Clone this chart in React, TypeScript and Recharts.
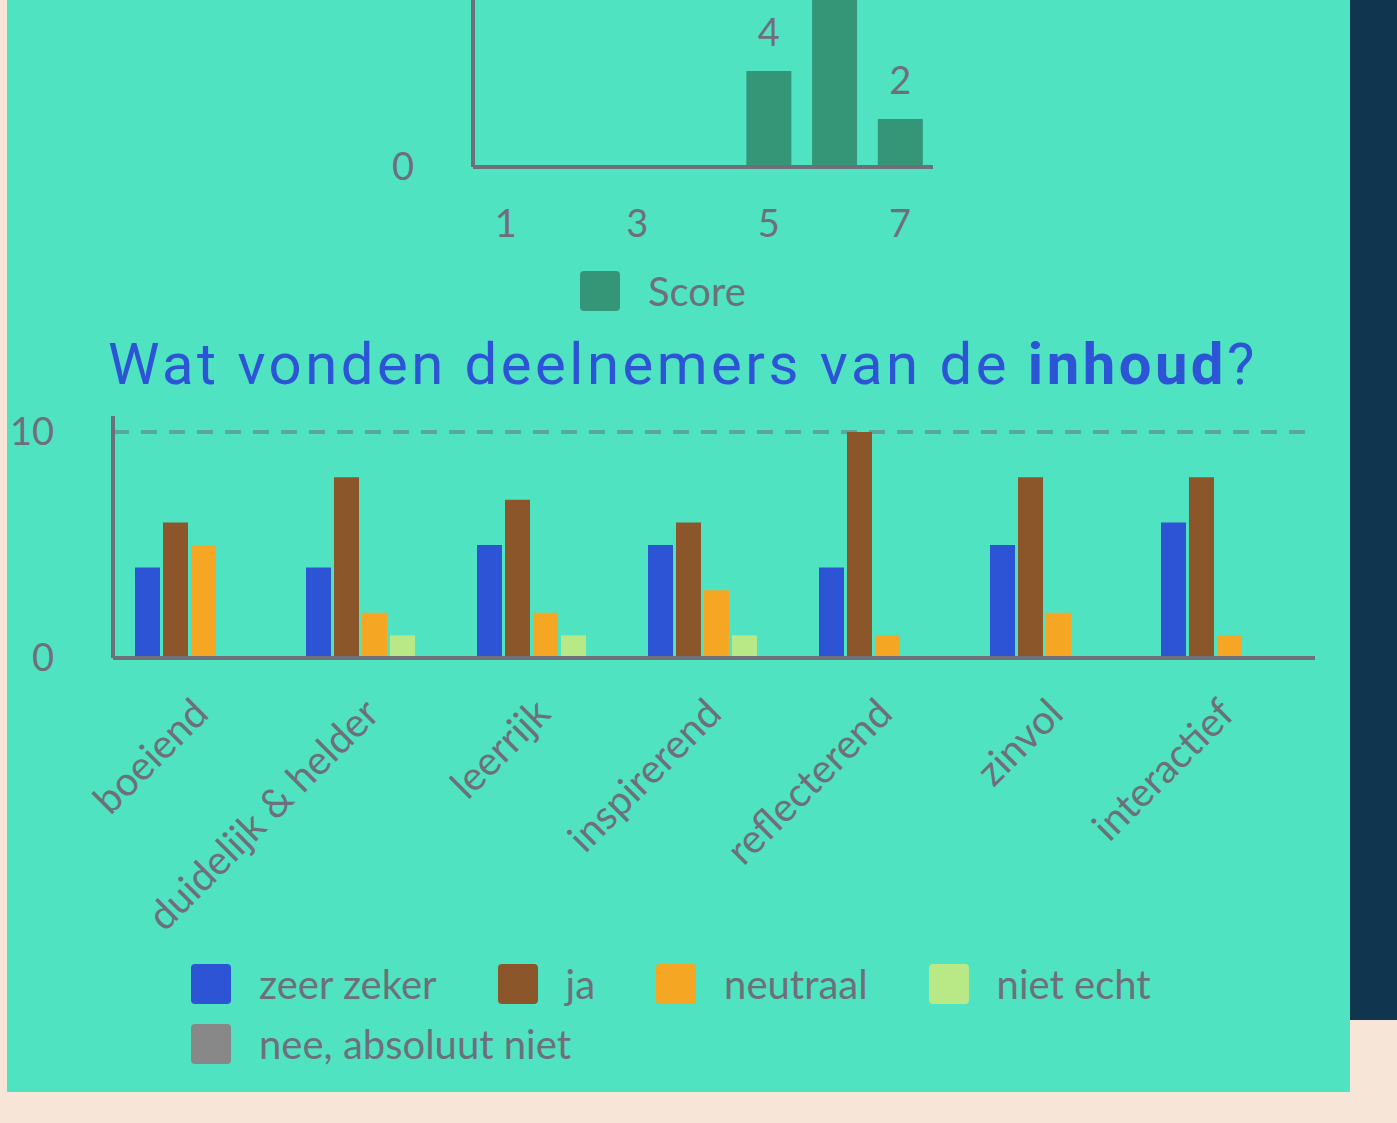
import { BarChart, Bar, XAxis, YAxis, CartesianGrid, Legend, LabelList } from 'recharts';

// score chart (upper, scrolled partly out of view)
const scoreCategories = ['1', '2', '3', '4', '5', '6', '7'];
const scoreValues = [0, 0, 0, 0, 4, 9, 2];
const scoreTicks = [0];

// inhoud chart
const aspects = ['boeiend', 'duidelijk & helder', 'leerrijk', 'inspirerend', 'reflecterend', 'zinvol', 'interactief'];
const zeerZeker = [4, 4, 5, 5, 4, 5, 6];
const ja = [6, 8, 7, 6, 10, 8, 8];
const neutraal = [5, 2, 2, 3, 1, 2, 1];
const nietEcht = [0, 1, 1, 1, 0, 0, 0];
const neeAbsoluutNiet = [0, 0, 0, 0, 0, 0, 0];
const answerNames = ['zeer zeker', 'ja', 'neutraal', 'niet echt', 'nee, absoluut niet'];
const answerColors = ['#2c54d4', '#8b572a', '#f5a623', '#b8e986', '#888888'];
const inhoudTicks = [0, 10];

const TEXT = '#6e7079';
const AXIS = '#6e7079';
const FONT = 'Lato, "Open Sans", sans-serif';

const scoreData = scoreCategories.map((c, i) => ({ name: c, Score: scoreValues[i] }));
const answerSeries = [zeerZeker, ja, neutraal, nietEcht, neeAbsoluutNiet];
const inhoudData = aspects.map((a, i) => {
  const row: Record<string, string | number> = { name: a };
  answerNames.forEach((n, k) => {
    row[n] = answerSeries[k][i];
  });
  return row;
});

function LegendBoxes(props: any) {
  const payload = [...(props.payload || [])].sort(
    (a: any, b: any) => answerNames.indexOf(a.value) - answerNames.indexOf(b.value),
  );
  return (
    <div style={{ display: 'flex', flexWrap: 'wrap', rowGap: 20, fontFamily: FONT }}>
      {payload.map((entry: any) => (
        <div key={entry.value} style={{ display: 'flex', alignItems: 'center', marginRight: 61 }}>
          <span
            style={{ display: 'inline-block', width: 40, height: 40, borderRadius: 4, background: entry.color }}
          />
          <span style={{ marginLeft: 28, fontSize: 40, lineHeight: '40px', color: TEXT }}>{entry.value}</span>
        </div>
      ))}
    </div>
  );
}

function SlantTick(props: any) {
  const { x, y, payload } = props;
  const ax = x + 7;
  const ay = y + 50;
  return (
    <text
      x={ax}
      y={ay}
      textAnchor="end"
      fill={TEXT}
      fontSize={40}
      fontFamily={FONT}
      transform={`rotate(-45 ${ax} ${ay})`}
    >
      {payload.value}
    </text>
  );
}

function ScoreChart() {
  return (
    <BarChart
      width={1397}
      height={460}
      data={scoreData}
      margin={{ top: 57, right: 464, bottom: 103, left: 413 }}
      barCategoryGap={10.5}
      style={{ fontFamily: FONT }}
    >
      <XAxis
        dataKey="name"
        interval={1}
        height={60}
        tickLine={false}
        tickMargin={37}
        axisLine={{ stroke: AXIS, strokeWidth: 4 }}
        tick={{ fill: TEXT, fontSize: 38 }}
      />
      <YAxis
        width={60}
        domain={[0, 10]}
        ticks={scoreTicks}
        tickLine={false}
        tickMargin={53}
        axisLine={{ stroke: AXIS, strokeWidth: 4 }}
        tick={{ fill: TEXT, fontSize: 38 }}
      />
      <Legend
        layout="horizontal"
        verticalAlign="middle"
        align="center"
        wrapperStyle={{ left: 580, top: 401, width: 400 }}
        content={LegendBoxes}
      />
      <Bar dataKey="Score" fill="#359677" isAnimationActive={false}>
        <LabelList
          dataKey="Score"
          position="top"
          offset={25}
          fill={TEXT}
          fontSize={38}
          formatter={(v: any) => (v > 0 ? v : '')}
        />
      </Bar>
    </BarChart>
  );
}

function InhoudChart() {
  return (
    <BarChart
      width={1397}
      height={700}
      data={inhoudData}
      margin={{ top: 16, right: 82, bottom: 342, left: 53 }}
      barCategoryGap={17}
      barGap={3}
      style={{ fontFamily: FONT }}
    >
      <CartesianGrid
        vertical={false}
        horizontalValues={inhoudTicks}
        stroke="#5aa898"
        strokeWidth={4}
        strokeDasharray="16 12"
      />
      <XAxis
        dataKey="name"
        interval={0}
        height={100}
        padding={{ left: 5, right: 0 }}
        tickLine={false}
        axisLine={{ stroke: AXIS, strokeWidth: 4 }}
        tick={SlantTick}
      />
      <YAxis
        width={60}
        domain={[0, 10]}
        ticks={inhoudTicks}
        padding={{ top: 16, bottom: 0 }}
        tickLine={false}
        tickMargin={53}
        axisLine={{ stroke: AXIS, strokeWidth: 4 }}
        tick={{ fill: TEXT, fontSize: 38 }}
      />
      <Legend
        layout="horizontal"
        verticalAlign="middle"
        align="center"
        wrapperStyle={{ left: 191, top: 564, width: 1080 }}
        content={LegendBoxes}
      />
      {answerNames.map((n, k) => (
        <Bar key={n} dataKey={n} fill={answerColors[k]} isAnimationActive={false} />
      ))}
    </BarChart>
  );
}

export default function App() {
  return (
    <div
      style={{
        position: 'fixed',
        left: 0,
        top: 0,
        width: 1397,
        height: 1123,
        background: '#f7e6d8',
        overflow: 'hidden',
        fontFamily: FONT,
      }}
    >
      <div style={{ position: 'absolute', left: 1350, top: 0, width: 47, height: 1020, background: '#10354f' }} />
      <div style={{ position: 'absolute', left: 7, top: 0, width: 1343, height: 1092, background: '#50e3c2' }} />
      <div style={{ position: 'absolute', left: 0, top: -130 }}>
        <ScoreChart />
      </div>
      <div
        style={{
          position: 'absolute',
          left: 108,
          top: 334,
          fontFamily: 'Roboto, sans-serif',
          fontSize: 58,
          lineHeight: '60px',
          letterSpacing: '3.5px',
          color: '#2c54d4',
          whiteSpace: 'nowrap',
        }}
      >
        Wat vonden deelnemers van de <b style={{ fontWeight: 700 }}>inhoud</b>?
      </div>
      <div style={{ position: 'absolute', left: 0, top: 400 }}>
        <InhoudChart />
      </div>
    </div>
  );
}
